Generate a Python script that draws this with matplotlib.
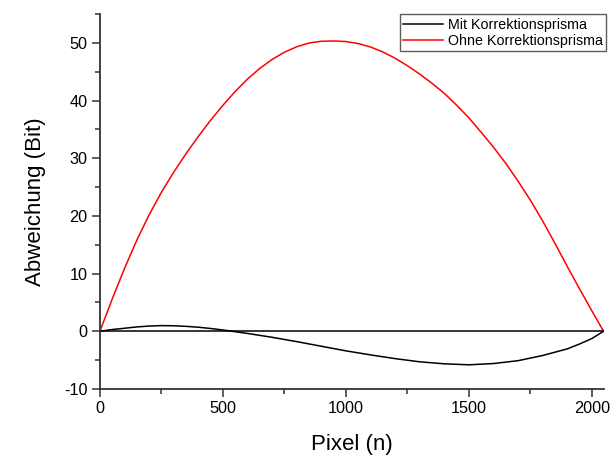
import matplotlib.pyplot as plt
from matplotlib.ticker import MultipleLocator

plt.rcParams['font.family'] = ['Liberation Sans', 'DejaVu Sans']
plt.rcParams['axes.unicode_minus'] = False

# Ohne Korrektionsprisma (red)
pixel_ohne = [0, 50, 100, 150, 200, 250, 300, 350, 400, 450, 500, 550, 600,
              650, 700, 750, 800, 850, 900, 950, 1000, 1050, 1100, 1150, 1200,
              1250, 1300, 1350, 1400, 1450, 1500, 1550, 1600, 1650, 1700, 1750,
              1800, 1850, 1900, 1950, 2000, 2047]
abw_ohne = [0, 5.6, 10.9, 15.8, 20.2, 24.1, 27.6, 30.8, 33.8, 36.6, 39.2, 41.6,
            43.75, 45.6, 47.15, 48.4, 49.35, 50.0, 50.3, 50.35, 50.25, 49.9,
            49.3, 48.45, 47.35, 46.05, 44.6, 43.0, 41.25, 39.2, 37.0, 34.5,
            31.9, 29.1, 26.0, 22.7, 19.1, 15.2, 11.2, 7.3, 3.5, 0]

# Mit Korrektionsprisma (black)
pixel_mit = [0, 50, 100, 150, 200, 250, 300, 350, 400, 450, 500, 550, 600,
             700, 800, 900, 1000, 1100, 1200, 1300, 1400, 1500, 1600, 1700,
             1800, 1900, 1950, 2000, 2047]
abw_mit = [0, 0.3, 0.52, 0.75, 0.9, 0.98, 0.95, 0.85, 0.7, 0.48, 0.22, -0.08,
           -0.38, -1.05, -1.8, -2.6, -3.4, -4.1, -4.75, -5.3, -5.65, -5.82,
           -5.6, -5.1, -4.2, -3.05, -2.2, -1.25, 0]

# zero line
pixel_null = [0, 2047]
abw_null = [0, 0]

fig = plt.figure(figsize=(6.13, 4.57), dpi=100)
ax = fig.add_axes([0.163, 0.149, 0.822, 0.82])

ax.plot(pixel_mit, abw_mit, color='black', lw=1.1, label='Mit Korrektionsprisma')
ax.plot(pixel_ohne, abw_ohne, color='red', lw=1.1, label='Ohne Korrektionsprisma')
ax.plot(pixel_null, abw_null, color='black', lw=1.1)

ax.set_xlim(0, 2048)
ax.set_ylim(-10, 55)
ax.xaxis.set_major_locator(MultipleLocator(500))
ax.xaxis.set_minor_locator(MultipleLocator(250))
ax.yaxis.set_major_locator(MultipleLocator(10))
ax.yaxis.set_minor_locator(MultipleLocator(5))

for s in ['top', 'right']:
    ax.spines[s].set_visible(False)
for s in ['left', 'bottom']:
    ax.spines[s].set_color('#333333')
    ax.spines[s].set_linewidth(1.3)

ax.tick_params(which='major', direction='out', length=6, width=1.1,
               color='#333333', labelsize=11.7, pad=3)
ax.tick_params(which='minor', direction='out', length=3.5, width=1.1,
               color='#333333')

ax.set_xlabel('Pixel (n)', fontsize=16, labelpad=13)
ax.set_ylabel('Abweichung (Bit)', fontsize=16, labelpad=13)

leg = ax.legend(loc='upper right', bbox_to_anchor=(1.005, 1.0), fontsize=10.3,
                frameon=True, fancybox=False, handlelength=2.8,
                borderpad=0.25, labelspacing=0.15, handletextpad=0.3,
                borderaxespad=0.0)
leg.get_frame().set_edgecolor('#333333')
leg.get_frame().set_linewidth(1.0)

fig.savefig('out.png', dpi=100)
